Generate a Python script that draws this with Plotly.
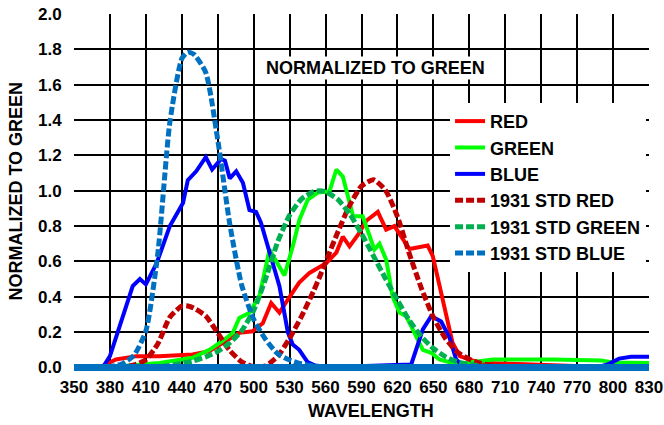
import plotly.graph_objects as go

red_nm = [350, 374, 385, 402, 421, 449, 463, 477, 488, 499, 507.6, 514.6, 521.5, 530, 538, 546.6,
          560.5, 569, 574.4, 580, 587, 594, 603.6, 610.6, 617.5, 630, 645.3, 649.5, 656.5, 666,
          672, 688.5, 720, 750, 780, 830]
red_vals = [0, 0.01, 0.045, 0.064, 0.064, 0.073, 0.092, 0.15, 0.196, 0.205, 0.25, 0.365, 0.31, 0.40,
            0.48, 0.535, 0.59, 0.65, 0.74, 0.685, 0.75, 0.83, 0.88, 0.78, 0.80, 0.67, 0.69, 0.63,
            0.42, 0.14, 0.064, 0.026, 0.02, 0.01, 0.005, 0.0]

green_nm = [350, 388, 421.4, 449, 463, 474, 482.6, 488, 496.5, 504.8, 513.2, 525.7, 532.6, 538.2,
            545.2, 553.5, 563.3, 569, 574.4, 580, 583, 591, 600.8, 605, 610.6, 616, 621.7, 627.3,
            635.6, 641.2, 648.2, 655, 669, 685, 700, 750, 790, 800, 830]
green_vals = [0, 0.007, 0.026, 0.055, 0.10, 0.15, 0.196, 0.28, 0.31, 0.405, 0.667, 0.52, 0.685, 0.836,
              0.95, 0.99, 0.996, 1.12, 1.08, 0.93, 0.855, 0.855, 0.667, 0.70, 0.61, 0.40, 0.31, 0.29,
              0.18, 0.10, 0.083, 0.045, 0.02, 0.035, 0.045, 0.045, 0.04, 0.028, 0.025]

blue_nm = [350, 374, 380, 391, 399, 405, 410, 419, 430, 441, 445, 452, 460, 465.3, 472.8, 476, 480,
           485.4, 491, 496.5, 502, 506, 514.6, 521.5, 528.5, 532.6, 538, 545, 555, 631.5, 641.2,
           648.2, 656.5, 663.4, 669, 676, 785, 795, 805, 815, 830]
blue_vals = [0, 0, 0.064, 0.29, 0.46, 0.50, 0.47, 0.59, 0.80, 0.93, 1.06, 1.11, 1.19, 1.12, 1.18,
             1.17, 1.07, 1.11, 1.045, 0.89, 0.88, 0.82, 0.61, 0.46, 0.20, 0.13, 0.10, 0.03, 0,
             0.017, 0.215, 0.29, 0.26, 0.17, 0.045, 0, 0, 0.015, 0.05, 0.06, 0.06]

# ---- CIE 1931 standard observer curves (as drawn) ----
std_nm = [350, 360, 370, 380, 390, 400, 410, 420, 430, 440, 445, 450, 460, 470, 480, 490, 500, 510,
          520, 530, 540, 550, 555, 560, 570, 580, 590, 600, 610, 620, 630, 640, 650, 660, 670, 680,
          690, 700, 710, 720, 730, 740, 750, 760, 770, 780, 790, 800, 810, 820, 830]
std_red = [0, 0, 0, 0.001, 0.004, 0.014, 0.044, 0.134, 0.284, 0.348, 0.348, 0.336, 0.291, 0.195,
           0.096, 0.032, 0.005, 0.009, 0.063, 0.166, 0.290, 0.433, 0.512, 0.595, 0.762, 0.916,
           1.026, 1.062, 1.003, 0.854, 0.642, 0.448, 0.284, 0.165, 0.087, 0.047, 0.023, 0.011,
           0.006, 0.003, 0.001, 0.001, 0, 0, 0, 0, 0, 0, 0, 0, 0]
std_green = [0, 0, 0, 0, 0, 0, 0.001, 0.004, 0.012, 0.023, 0.030, 0.038, 0.060, 0.091, 0.139, 0.208,
             0.323, 0.503, 0.710, 0.862, 0.954, 0.995, 1.000, 0.995, 0.952, 0.870, 0.757, 0.631,
             0.503, 0.381, 0.265, 0.175, 0.107, 0.061, 0.032, 0.017, 0.008, 0.004, 0.002, 0.001,
             0.001, 0, 0, 0, 0, 0, 0, 0, 0, 0, 0]
std_blue = [0, 0, 0.002, 0.006, 0.020, 0.068, 0.207, 0.646, 1.386, 1.747, 1.784, 1.772, 1.669, 1.288,
            0.813, 0.465, 0.272, 0.158, 0.078, 0.042, 0.020, 0.009, 0.006, 0.004, 0.002, 0.002,
            0.001, 0.001, 0, 0, 0, 0, 0, 0, 0, 0, 0, 0, 0, 0, 0, 0, 0, 0, 0, 0, 0, 0, 0, 0, 0]

x_ticks = list(range(350, 831, 30))

FONT = "Liberation Sans, Arial, sans-serif"
DASH = "8px,3px"
BOLD18 = dict(family=FONT, size=18, color="black", weight="bold")
BOLD17 = dict(family=FONT, size=17, color="black", weight="bold")

fig = go.Figure()
fig.add_trace(go.Scatter(x=red_nm, y=red_vals, mode="lines", name="RED",
                         line=dict(color="#FF0000", width=4)))
fig.add_trace(go.Scatter(x=green_nm, y=green_vals, mode="lines", name="GREEN",
                         line=dict(color="#00FF00", width=4)))
fig.add_trace(go.Scatter(x=blue_nm, y=blue_vals, mode="lines", name="BLUE",
                         line=dict(color="#0000FF", width=4)))
fig.add_trace(go.Scatter(x=std_nm, y=std_red, mode="lines", name="1931 STD RED",
                         line=dict(color="#C00000", width=5, dash=DASH, shape="spline", smoothing=0.6)))
fig.add_trace(go.Scatter(x=std_nm, y=std_green, mode="lines", name="1931 STD GREEN",
                         line=dict(color="#00B050", width=5, dash=DASH, shape="spline", smoothing=0.6)))
fig.add_trace(go.Scatter(x=std_nm, y=std_blue, mode="lines", name="1931 STD BLUE",
                         line=dict(color="#0070C0", width=5, dash=DASH, shape="spline", smoothing=0.6)))
# solid baseline drawn in std-blue colour along zero
fig.add_trace(go.Scatter(x=[std_nm[0], std_nm[-1]], y=[0, 0], mode="lines", showlegend=False,
                         line=dict(color="#0070C0", width=7), hoverinfo="skip"))

fig.add_annotation(x=602, y=1.695, text="NORMALIZED TO GREEN", showarrow=False,
                   bgcolor="white", borderpad=1, font=BOLD18)
# axis titles
fig.add_annotation(xref="paper", yref="paper", x=0.517, y=-0.112, text="WAVELENGTH",
                   showarrow=False, xanchor="center", yanchor="middle", font=BOLD18)
fig.add_annotation(xref="paper", yref="paper", x=-0.1, y=0.504, text="NORMALIZED TO GREEN",
                   showarrow=False, xanchor="center", yanchor="middle", textangle=-90, font=BOLD18)

fig.update_layout(
    width=664, height=425,
    margin=dict(l=74, r=15, t=14, b=54),
    paper_bgcolor="white", plot_bgcolor="white",
    font=BOLD18,
    showlegend=True,
    legend=dict(x=0.654, y=0.751, xanchor="left", yanchor="top", bgcolor="white",
                borderwidth=0, font=BOLD18, tracegroupgap=0),
    xaxis=dict(range=[350, 830], tickmode="array", tickvals=x_ticks,
               ticktext=[str(v) for v in x_ticks], showgrid=True, gridcolor="black",
               gridwidth=2, zeroline=False, showline=False,
               ticks="outside", ticklen=1, tickcolor="rgba(0,0,0,0)",
               ticklabeloverflow="allow", automargin=False, tickfont=BOLD17),
    yaxis=dict(range=[-0.02, 2.0], tick0=0, dtick=0.2, tickformat=".1f",
               showgrid=True, gridcolor="black", gridwidth=2, zeroline=False,
               showline=False, ticks="outside", ticklen=8, tickcolor="rgba(0,0,0,0)",
               ticklabeloverflow="allow", automargin=False, tickfont=BOLD17),
)

fig.write_html("out.html", config={"displayModeBar": False},
               post_script="document.body.style.margin='0';document.body.style.padding='0';")
